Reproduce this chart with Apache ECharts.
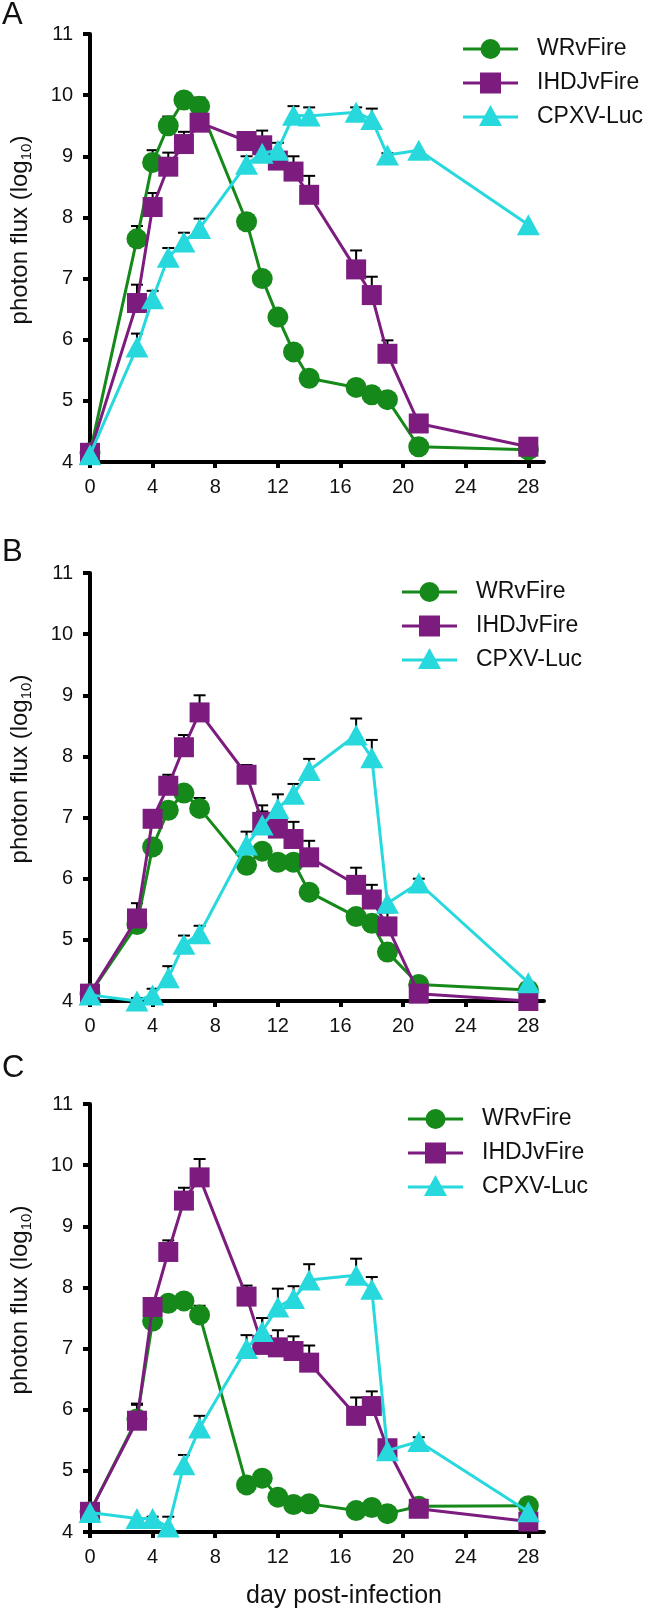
<!DOCTYPE html>
<html>
<head>
<meta charset="utf-8">
<script src="https://cdn.jsdelivr.net/npm/echarts@6/dist/echarts.min.js"></script>
<style>
  html, body { margin: 0; padding: 0; background: #fff; }
  #chart { width: 649px; height: 1610px; }
</style>
</head>
<body>
<div id="chart"></div>
<script>
// sampling days (x axis)
var days = [0, 3, 4, 5, 6, 7, 10, 11, 12, 13, 14, 17, 18, 19, 21, 28];
var xTicks = [0, 4, 8, 12, 16, 20, 24, 28];
var names = ['WRvFire', 'IHDJvFire', 'CPXV-Luc'];

// panel A
var wrA = [4.15, 7.65, 8.9, 9.5, 9.92, 9.82, 7.93, 7.0, 6.37, 5.8, 5.37, 5.22, 5.1, 5.02, 4.25, 4.2];
var wrAErr = [null, 7.86, 9.1, 9.65, null, 9.96, null, null, null, null, null, null, null, null, null, null];
var ihA = [4.15, 6.6, 8.17, 8.83, 9.2, 9.55, 9.25, 9.18, 8.93, 8.75, 8.37, 7.15, 6.73, 5.77, 4.63, 4.25];
var ihAErr = [null, 6.9, 8.4, 9.06, 9.4, null, null, 9.42, 9.22, 9.0, 8.68, 7.46, 7.03, 5.99, null, null];
var cpA = [4.12, 5.88, 6.67, 7.35, 7.6, 7.82, 8.87, 9.05, 9.1, 9.67, 9.66, 9.72, 9.6, 9.02, 9.1, 7.88];
var cpAErr = [null, 6.1, 6.8, 7.5, 7.75, 7.98, 9.0, null, null, 9.82, 9.8, 9.8, 9.78, 9.05, null, null];

// panel B
var wrB = [4.12, 5.25, 6.52, 7.12, 7.4, 7.15, 6.22, 6.45, 6.27, 6.27, 5.78, 5.38, 5.27, 4.8, 4.27, 4.18];
var wrBErr = [null, null, null, null, null, 7.32, null, null, null, null, null, null, null, null, null, null];
var ihB = [4.12, 5.35, 6.98, 7.52, 8.15, 8.72, 7.7, 6.93, 6.82, 6.65, 6.35, 5.9, 5.66, 5.22, 4.12, 4.0];
var ihBErr = [null, 5.6, null, 7.7, 8.35, 9.0, 7.86, 7.2, null, 6.93, 6.62, 6.18, 5.9, 5.45, null, null];
var cpB = [4.1, 4.0, 4.1, 4.38, 4.93, 5.1, 6.55, 6.88, 7.15, 7.38, 7.77, 8.35, 7.98, 5.6, 5.93, 4.3];
var cpBErr = [null, 4.05, 4.2, 4.57, 5.07, 5.23, 6.77, 7.1, 7.38, 7.55, 7.96, 8.62, 8.27, null, 6.0, null];

// panel C
var wrC = [4.33, 5.85, 7.45, 7.74, 7.78, 7.55, 4.77, 4.88, 4.57, 4.45, 4.46, 4.35, 4.4, 4.3, 4.42, 4.43];
var wrCErr = [null, 6.1, null, null, null, 7.7, null, null, null, null, null, null, null, null, null, null];
var ihC = [4.33, 5.82, 7.68, 8.58, 9.42, 9.8, 7.85, 7.06, 7.02, 6.96, 6.77, 5.9, 6.06, 5.37, 4.38, 4.17];
var ihCErr = [null, 6.08, null, 8.77, 9.63, 10.1, 8.03, 7.5, 7.3, 7.2, 7.05, 6.2, 6.3, null, null, null];
var cpC = [4.32, 4.22, 4.22, 4.08, 5.1, 5.7, 7.0, 7.28, 7.68, 7.82, 8.12, 8.2, 7.97, 5.33, 5.48, 4.33];
var cpCErr = [null, null, 4.25, 4.25, 5.26, 5.9, 7.22, 7.5, 7.98, 8.02, 8.38, 8.47, 8.17, null, 5.55, null];

var colors = ['#15891a', '#7b1c7e', '#27d9dc'];
var symbols = ['circle', 'rect', 'triangle'];
var symbolSizes = [21, 20, [23, 21]];
var FONT = '"Liberation Sans", Arial, sans-serif';

var panels = [
  { top: 34, vals: [wrA, ihA, cpA], errs: [wrAErr, ihAErr, cpAErr], legendX: 463, legendY: 49, letter: 'A', letterTop: 0 },
  { top: 573, vals: [wrB, ihB, cpB], errs: [wrBErr, ihBErr, cpBErr], legendX: 402, legendY: 592, letter: 'B', letterTop: 537 },
  { top: 1104, vals: [wrC, ihC, cpC], errs: [wrCErr, ihCErr, cpCErr], legendX: 408, legendY: 1119, letter: 'C', letterTop: 1053 }
];

function errorBar(params, api) {
  var base = api.coord([api.value(0), api.value(1)]);
  var up = api.coord([api.value(0), api.value(2)]);
  return {
    type: 'group',
    children: [
      { type: 'line', shape: { x1: base[0], y1: base[1], x2: up[0], y2: up[1] }, style: { stroke: '#000', lineWidth: 2 } },
      { type: 'line', shape: { x1: up[0] - 6, y1: up[1], x2: up[0] + 6, y2: up[1] }, style: { stroke: '#000', lineWidth: 2 } }
    ]
  };
}

// legend key: line + marker + label
function legendRows() {
  var kids = [];
  names.forEach(function (n, i) {
    var cy = i * 34, c = colors[i];
    kids.push({ type: 'line', shape: { x1: 0, y1: cy, x2: 55, y2: cy }, style: { stroke: c, lineWidth: 3 } });
    if (i === 0) kids.push({ type: 'circle', shape: { cx: 27.5, cy: cy, r: 10 }, style: { fill: c } });
    if (i === 1) kids.push({ type: 'rect', shape: { x: 17, y: cy - 10.5, width: 21, height: 21 }, style: { fill: c } });
    if (i === 2) kids.push({ type: 'polygon', shape: { points: [[27.5, cy - 12], [16, cy + 9], [39, cy + 9]] }, style: { fill: c } });
    kids.push({
      type: 'text', x: 74, y: cy,
      style: { text: n, fontSize: 23, fill: '#111', fontFamily: FONT, verticalAlign: 'middle', align: 'left' }
    });
  });
  return kids;
}

var grids = [], xAxes = [], yAxes = [], series = [], graphics = [];

panels.forEach(function (p, gi) {
  grids.push({ left: 87, width: 457, top: p.top, height: 428 });
  xAxes.push({
    gridIndex: gi, type: 'value', min: 0, max: 29,
    name: gi === 2 ? 'day post-infection' : '',
    nameLocation: 'middle', nameGap: 52,
    nameTextStyle: { fontSize: 25, color: '#111', fontFamily: FONT, padding: [0, 0, 0, 54] },
    axisLine: { lineStyle: { color: '#000', width: 4 } },
    axisTick: { show: true, length: 6, customValues: xTicks, lineStyle: { color: '#000', width: 4 } },
    axisLabel: { customValues: xTicks, fontSize: 20, color: '#111', fontFamily: FONT, margin: 15 },
    splitLine: { show: false }
  });
  yAxes.push({
    gridIndex: gi, type: 'value', min: 4, max: 11, interval: 1,
    name: '{a|photon flux (log}{s|10}{a|)}',
    nameLocation: 'middle', nameGap: 56,
    nameTextStyle: {
      color: '#111', fontFamily: FONT, padding: [0, 0, 0, 36],
      rich: {
        a: { fontSize: 24, color: '#111', fontFamily: FONT, lineHeight: 28 },
        s: { fontSize: 15, color: '#111', fontFamily: FONT, lineHeight: 28, verticalAlign: 'bottom' }
      }
    },
    axisLine: { lineStyle: { color: '#000', width: 4 } },
    axisTick: { show: true, length: 7, lineStyle: { color: '#000', width: 4 } },
    axisLabel: { fontSize: 20, color: '#111', fontFamily: FONT, margin: 17 },
    splitLine: { show: false }
  });

  // error bars first so markers sit on top
  p.vals.forEach(function (vals, si) {
    var rows = days.map(function (d, i) { return [d, vals[i], p.errs[si][i]]; })
      .filter(function (r) { return r[2] != null; });
    series.push({
      type: 'custom', xAxisIndex: gi, yAxisIndex: gi, z: 1,
      renderItem: errorBar, data: rows, silent: true
    });
  });
  p.vals.forEach(function (vals, si) {
    series.push({
      name: names[si], type: 'line', xAxisIndex: gi, yAxisIndex: gi, z: 2 + si,
      data: days.map(function (d, i) { return [d, vals[i]]; }),
      symbol: symbols[si], symbolSize: symbolSizes[si], showAllSymbol: true,
      itemStyle: { color: colors[si] },
      lineStyle: { color: colors[si], width: 3 },
      animation: false
    });
  });

  graphics.push({ type: 'group', x: p.legendX, y: p.legendY, children: legendRows() });
  graphics.push({
    type: 'text', left: 2, top: p.letterTop,
    style: { text: p.letter, fontSize: 31, fill: '#111', fontFamily: FONT }
  });
});

var chart = echarts.init(document.getElementById('chart'));
chart.setOption({
  animation: false,
  backgroundColor: '#fff',
  grid: grids,
  xAxis: xAxes,
  yAxis: yAxes,
  graphic: graphics,
  series: series
});
</script>
</body>
</html>
